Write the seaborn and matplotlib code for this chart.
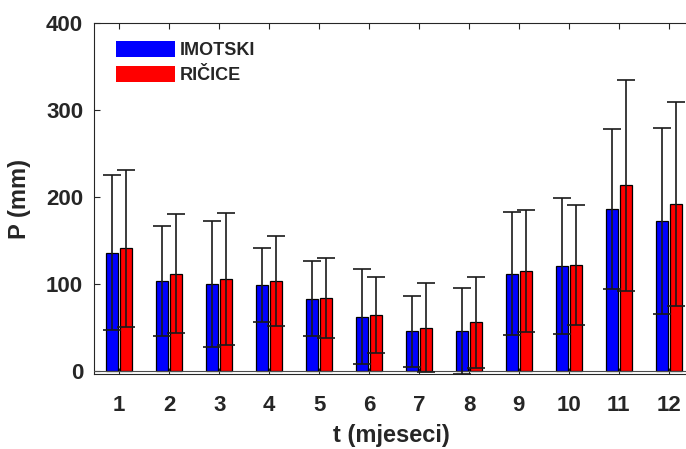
import numpy as np
import pandas as pd
import matplotlib
matplotlib.use("Agg")
import matplotlib.pyplot as plt
import seaborn as sns

# mjeseci i stanice
months = [1, 2, 3, 4, 5, 6, 7, 8, 9, 10, 11, 12]
stations = ['IMOTSKI', 'RIČICE']

# srednje mjesečne oborine (mm) i standardna devijacija
imotski_mean = [136, 103.5, 100, 98.5, 83, 62.5, 45.5, 45.5, 112, 120.5, 186, 172.5]
imotski_std = [89, 63.5, 72, 42.5, 43, 54.7, 40.5, 49.5, 70.5, 78, 92, 107]
ricice_mean = [141, 112, 106, 103.5, 84, 64.5, 50, 56, 115, 122, 213.5, 192]
ricice_std = [90, 68.5, 76, 51.5, 45.5, 44, 51, 52.5, 70.5, 69, 121, 117]

colors = ['#0000ff', '#ff0000']

df = pd.DataFrame({
    'mjesec': months * 2,
    'P': imotski_mean + ricice_mean,
    'stanica': [stations[0]] * 12 + [stations[1]] * 12,
})

sns.set_style('white')
plt.rcParams['font.family'] = ['Liberation Sans', 'DejaVu Sans']
plt.rcParams['font.weight'] = 'bold'

fig = plt.figure(figsize=(6.86, 4.49), dpi=100)
ax = fig.add_axes([0.1375, 0.167, 0.8738, 0.781])

sns.barplot(data=df, x='mjesec', y='P', hue='stanica', palette=colors,
            saturation=1, width=0.56, gap=0.16, edgecolor='black', linewidth=0.9,
            errorbar=None, ax=ax)

# error bars (mean +/- std) at the bar centres
for cont, std in zip(ax.containers, [imotski_std, ricice_std]):
    xs = [p.get_x() + p.get_width() / 2 for p in cont]
    ys = [p.get_height() for p in cont]
    eb = ax.errorbar(xs, ys, yerr=std, fmt='none', ecolor='#1a1a1a',
                     elinewidth=1.2, capsize=6.5, capthick=1.2, zorder=5)
    for art in eb.lines[1] + eb.lines[2]:
        art.set_clip_on(False)

ax.axhline(0, color='#4d4d4d', lw=0.8, zorder=4)

ax.set_ylim(-3.5, 400)
ax.set_xlim(-0.5, 11.5)
ax.set_yticks([0, 100, 200, 300, 400])

for sp in ax.spines.values():
    sp.set_visible(True)
    sp.set_color('#262626')
    sp.set_linewidth(0.8)

ax.tick_params(axis='both', direction='in', length=4, width=0.8,
               color='#262626', labelcolor='#262626', labelsize=16,
               top=True, right=True, left=True, bottom=True)
ax.tick_params(axis='x', pad=15)
ax.tick_params(axis='y', pad=8)

ax.set_xlabel('t (mjeseci)', fontsize=17, fontweight='bold', color='#262626')
ax.set_ylabel('P (mm)', fontsize=17, fontweight='bold', color='#262626')
ax.xaxis.label.set_va('center')
ax.yaxis.label.set_va('center')
ax.xaxis.set_label_coords(0.496, -0.175)
ax.yaxis.set_label_coords(-0.124, 0.5)

handles, labels = ax.get_legend_handles_labels()
for h in handles:
    h.set_edgecolor('none')
ax.legend(handles, labels, loc='upper left',
          bbox_to_anchor=(116 / 686, 1 - 41 / 449), bbox_transform=fig.transFigure,
          frameon=False, prop={'weight': 'bold', 'size': 13},
          handlelength=3.27, handleheight=1.0, handletextpad=0.25,
          labelspacing=0.35, borderpad=0, borderaxespad=0)

fig.savefig('out.png', dpi=100)
